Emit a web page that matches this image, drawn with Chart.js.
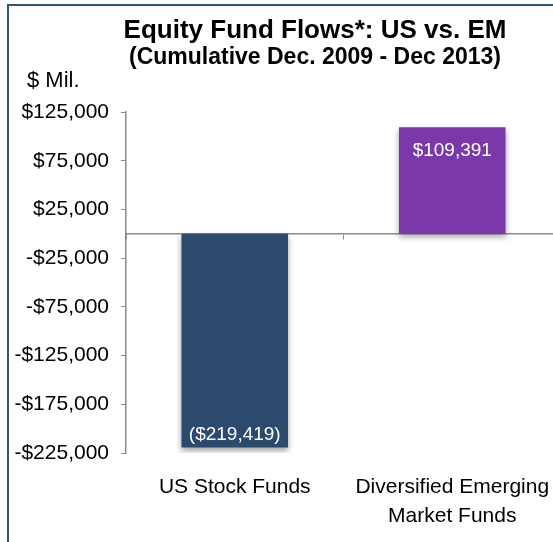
<!DOCTYPE html>
<html>

<head>
  <meta charset="UTF-8">
  <title>Equity Fund Flows</title>
  <script src="https://cdn.jsdelivr.net/npm/chart.js"></script>
  <style>
    body {
      margin: 0;
      width: 553px;
      height: 542px;
      overflow: hidden;
      position: relative;
      background: #fff;
      font-family: "Liberation Sans", Arial, sans-serif;
    }

    .frame {
      position: absolute;
      left: 7px;
      top: 4px;
      width: 600px;
      height: 600px;
      border-left: 2px solid #34527a;
      border-top: 2px solid #34527a;
    }

    .title {
      position: absolute;
      left: 115px;
      width: 400px;
      text-align: center;
      font-weight: bold;
      line-height: 1;
      color: #000;
      white-space: nowrap;
    }

    .unit {
      position: absolute;
      left: 27px;
      top: 69px;
      font-size: 22px;
      line-height: 1;
    }

    #chart {
      position: absolute;
      left: 0;
      top: 0;
    }
  </style>
</head>

<body>
  <div class="frame"></div>
  <canvas id="chart" width="561" height="542"></canvas>
  <div class="title" style="top:16px;font-size:26px">Equity Fund Flows*: US vs. EM</div>
  <div class="title" style="top:45px;font-size:23px">(Cumulative Dec. 2009 - Dec 2013)</div>
  <div class="unit">$ Mil.</div>

  <script>
    const categories = ['US Stock Funds', ['Diversified Emerging', 'Market Funds']];
    const flows = [-219419, 109391];
    const barColors = ['#2c4a6e', '#7a38a8'];
    const yMin = -225000;
    const yMax = 125000;
    const yStep = 50000;

    function money(v) {
      return '$' + Math.abs(v).toLocaleString('en-US');
    }

    // shadow under the bars, like the original
    const barShadow = {
      id: 'barShadow',
      beforeDatasetDraw(chart) {
        const ctx = chart.ctx;
        ctx.save();
        ctx.shadowColor = 'rgba(0,0,0,0.35)';
        ctx.shadowBlur = 6;
        ctx.shadowOffsetY = 3;
      },
      afterDatasetDraw(chart) {
        chart.ctx.restore();
      }
    };

    // value labels inside the bar ends
    const barLabels = {
      id: 'barLabels',
      afterDatasetsDraw(chart) {
        const ctx = chart.ctx;
        const meta = chart.getDatasetMeta(0);
        ctx.save();
        ctx.font = '19px "Liberation Sans", Arial, sans-serif';
        ctx.fillStyle = '#ffffff';
        ctx.textAlign = 'center';
        ctx.textBaseline = 'middle';
        meta.data.forEach((bar, i) => {
          const v = flows[i];
          const text = v < 0 ? '(' + money(v) + ')' : money(v);
          const y = v < 0 ? bar.y - 13 : bar.y + 24;
          ctx.fillText(text, bar.x, y);
        });
        ctx.restore();
      }
    };

    const ctx = document.getElementById('chart').getContext('2d');
    new Chart(ctx, {
      type: 'bar',
      data: {
        labels: categories,
        datasets: [{
          data: flows,
          backgroundColor: barColors,
          borderWidth: 0,
          categoryPercentage: 1,
          barPercentage: 0.49
        }]
      },
      plugins: [barShadow, barLabels],
      options: {
        responsive: false,
        animation: false,
        layout: {
          padding: { top: 112, left: 0, right: 0, bottom: 0 }
        },
        plugins: {
          legend: { display: false },
          title: { display: false },
          tooltip: { enabled: false }
        },
        scales: {
          x: {
            grid: { display: false, drawTicks: false },
            border: { display: false },
            ticks: {
              color: '#000',
              padding: 20,
              maxRotation: 0,
              autoSkip: false,
              font: { family: '"Liberation Sans", Arial, sans-serif', size: 21, lineHeight: 1.38 }
            },
            afterFit(scale) {
              scale.height = 89;
              scale.paddingLeft = 0;
              scale.paddingRight = 0;
            }
          },
          x2: {
            type: 'category',
            position: { y: 0 },
            offset: true,
            grid: {
              offset: true,
              drawOnChartArea: false,
              drawTicks: true,
              tickLength: 5,
              color: '#8c8c8c'
            },
            border: { display: true, color: '#8c8c8c', width: 1.5 },
            ticks: { display: false }
          },
          y: {
            min: yMin,
            max: yMax,
            grid: {
              drawOnChartArea: false,
              tickLength: 5,
              color: '#8c8c8c'
            },
            border: { color: '#8c8c8c', width: 1.5 },
            ticks: {
              stepSize: yStep,
              color: '#000',
              padding: 12,
              font: { family: '"Liberation Sans", Arial, sans-serif', size: 21 },
              callback: v => (v < 0 ? '-' : '') + money(v)
            },
            afterFit(scale) { scale.width = 126; }
          }
        }
      }
    });
  </script>
</body>

</html>
